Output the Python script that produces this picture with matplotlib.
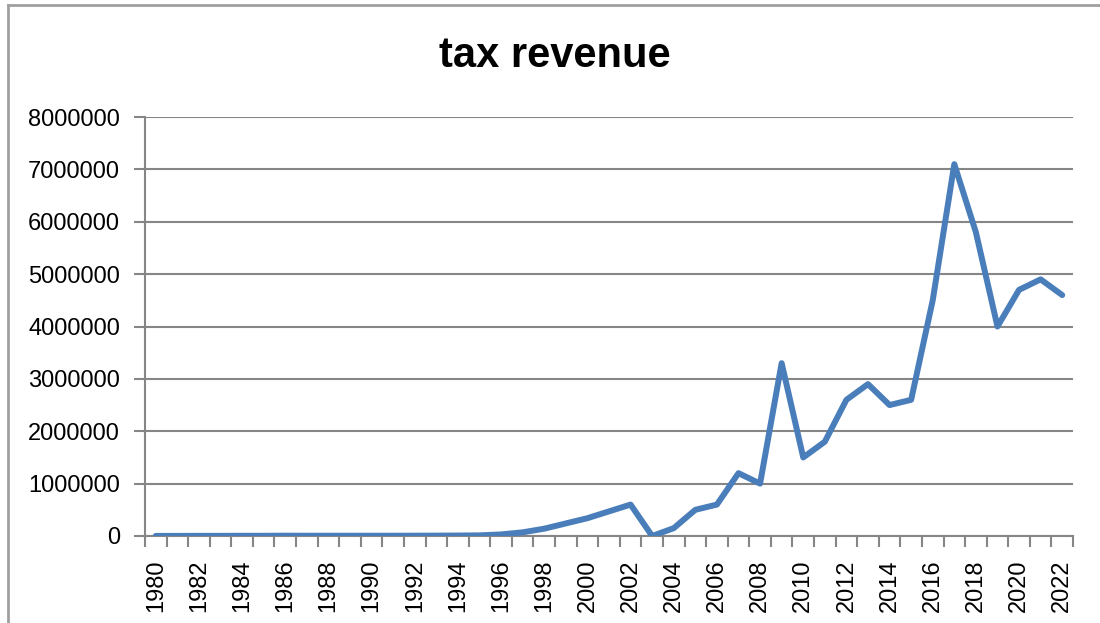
import matplotlib.pyplot as plt
from matplotlib.lines import Line2D

# data
years = list(range(1980, 2023))
revenue = [
    2000, 2000, 3000, 3000, 4000, 4000, 6000, 5000, 5000, 5000,   # 1980-1989
    5000, 5000, 6000, 7000, 9000, 12000, 30000, 70000, 140000, 240000,  # 1990-1999
    340000, 470000, 600000, 0, 150000, 500000, 600000, 1200000, 1000000, 3300000,  # 2000-2009
    1500000, 1800000, 2600000, 2900000, 2500000, 2600000, 4500000, 7100000, 5800000, 4000000,  # 2010-2019
    4700000, 4900000, 4600000,  # 2020-2022
]
ytick_vals = [0, 1000000, 2000000, 3000000, 4000000, 5000000, 6000000, 7000000, 8000000]

plt.rcParams['font.family'] = ['Liberation Sans', 'DejaVu Sans']
grey = '#868686'

fig = plt.figure(figsize=(11, 6.23), dpi=100)
ax = fig.add_axes([145 / 1100, 1 - 536 / 623, 928 / 1100, 419 / 623])

idx = list(range(len(years)))
ax.plot(idx, revenue, color='#4A7EBB', lw=4.3, solid_joinstyle='round',
        solid_capstyle='round', zorder=3)

ax.set_ylim(0, 8000000)
ax.set_xlim(-0.5, len(years) - 0.5)
ax.set_yticks(ytick_vals)
ax.set_yticklabels([str(v) for v in ytick_vals], fontsize=17)
ax.grid(axis='y', color=grey, lw=1.5)
ax.set_axisbelow(True)

ax.set_xticks(idx[::2])
ax.set_xticklabels([str(y) for y in years[::2]], rotation=90, fontsize=17)
ax.set_xticks([i - 0.5 for i in range(len(years) + 1)], minor=True)
ax.tick_params(axis='x', which='major', length=0, pad=17)
ax.tick_params(axis='x', which='minor', length=8, width=1.5, color=grey)
ax.tick_params(axis='y', length=8, width=1.5, color=grey, pad=10)

for s in ['top', 'right']:
    ax.spines[s].set_visible(False)
for s in ['left', 'bottom']:
    ax.spines[s].set_color(grey)
    ax.spines[s].set_linewidth(1.5)

fig.text(555 / 1100, 1 - 56 / 623, 'tax revenue', ha='center', va='center',
         fontsize=30, fontweight='bold')

# outer chart frame
fig.add_artist(Line2D([8 / 1100, 8 / 1100], [0, 1 - 5 / 623], color='#a0a0a0', lw=2))
fig.add_artist(Line2D([8 / 1100, 1], [1 - 5 / 623, 1 - 5 / 623], color='#a0a0a0', lw=2))

fig.savefig('out.png', dpi=100)
